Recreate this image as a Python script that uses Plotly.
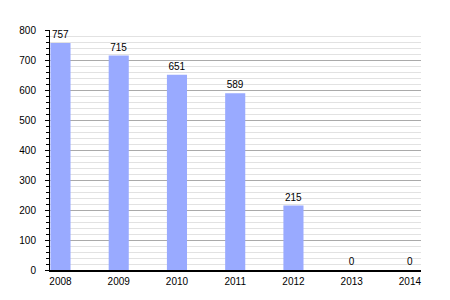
import plotly.graph_objects as go

years = [2008, 2009, 2010, 2011, 2012, 2013, 2014]
values = [757, 715, 651, 589, 215, 0, 0]
labels = [str(v) for v in values]

fig = go.Figure(go.Bar(
    x=years, y=values, text=labels, textposition="outside",
    textfont=dict(color="black", size=10, family="Liberation Sans, Arial"),
    marker=dict(color="#99aaff", line=dict(width=0)),
    width=0.345, cliponaxis=False,
))

fig.update_layout(
    width=450, height=300,
    margin=dict(l=50, r=29, t=30, b=30),
    paper_bgcolor="white", plot_bgcolor="white",
    font=dict(family="Liberation Sans, Arial", size=10, color="black"),
    showlegend=False,
)
fig.update_xaxes(
    range=[2008 - 0.18, 2014 + 0.19],
    tickvals=years, ticktext=[str(y) for y in years],
    showline=True, linecolor="black", linewidth=1.5,
    showgrid=False, zeroline=False, ticks="", ticklabelstandoff=1,
)
fig.update_yaxes(
    range=[0, 800], dtick=100,
    showline=True, linecolor="black", linewidth=1,
    showgrid=True, gridcolor="#aaaaaa", gridwidth=1,
    zeroline=False, ticks="outside", ticklen=4, tickcolor="black",
    ticklabelstandoff=7,
    minor=dict(dtick=20, showgrid=True, gridcolor="#e2e2e2", ticks="outside",
               ticklen=3, tickcolor="black"),
)
fig.write_html("out.html")
